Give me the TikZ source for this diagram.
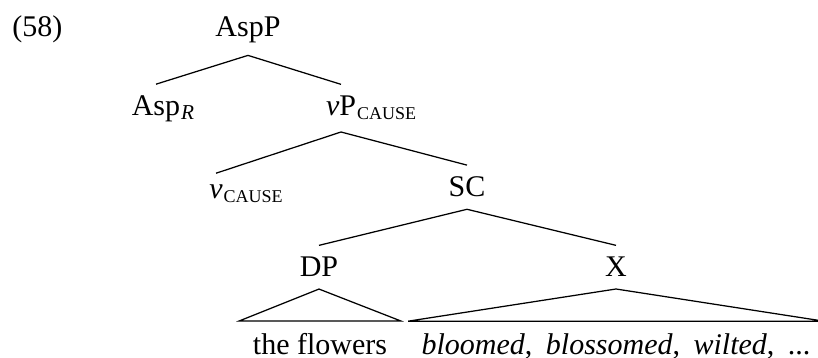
\documentclass[tikz,border=0pt]{standalone}
\usepackage{fontspec}
\setmainfont{Liberation Serif}
\usetikzlibrary{positioning}

\begin{document}
\begin{tikzpicture}[
    x=0.4pt, y=-0.4pt,
    every node/.style={font=\fontsize{12}{14}\selectfont},
    cat/.style={inner xsep=0pt, inner ysep=4.6pt, anchor=base},
    sub/.style={inner sep=0pt, anchor=base west, font=\fontsize{7.2}{8}\selectfont},
    leaf/.style={inner xsep=5.2pt, inner ysep=4.6pt, anchor=base},
    branch/.style={line width=0.5pt},
  ]
    \useasboundingbox (0,0) rectangle (818,358);

    \node[anchor=base west, inner sep=0pt] (num) at (12,37) {(58)};
    \node[cat] (aspp) at (248,37) {AspP};
    \node[cat] (asp) at (156,116) {Asp};
    \node[sub, font=\fontsize{8.5}{10}\selectfont\itshape]
      (asp-r) at ([yshift=-1.6pt]asp.base east) {R};
    \node[cat, text depth=1.6pt] (vp) at (341,116) {\textit{v}P};
    \node[sub] (vp-cause) at ([yshift=-1.6pt]vp.base east) {CAUSE};
    \node[cat] (v) at (216,199) {\textit{v}};
    \node[sub] (v-cause) at ([yshift=-1.6pt]v.base east) {CAUSE};
    \node[cat] (sc) at (467,197) {SC};
    \node[cat] (dp) at (319,277) {DP};
    \node[cat] (x) at (616,277) {X};
    \node[leaf] (flowers) at (320,354) {the flowers};
    \node[leaf] (verbs) at (616,354)
      {\textit{bloomed},\hspace{0.45em}\textit{blossomed},\hspace{0.45em}\textit{wilted},\hspace{0.45em}...};

    \draw[branch] (aspp.south) -- (asp.north);
    \draw[branch] (aspp.south) -- (vp.north);
    \draw[branch] (vp.south) -- (v.north);
    \draw[branch] (vp.south) -- (sc.north);
    \draw[branch] (sc.south) -- (dp.north);
    \draw[branch] (sc.south) -- (x.north);
    \draw[branch] (dp.south) -- (flowers.north west) -- (flowers.north east) -- cycle;
    \draw[branch] (x.south) -- (verbs.north west) -- (verbs.north east) -- cycle;
  \end{tikzpicture}
\end{document}
